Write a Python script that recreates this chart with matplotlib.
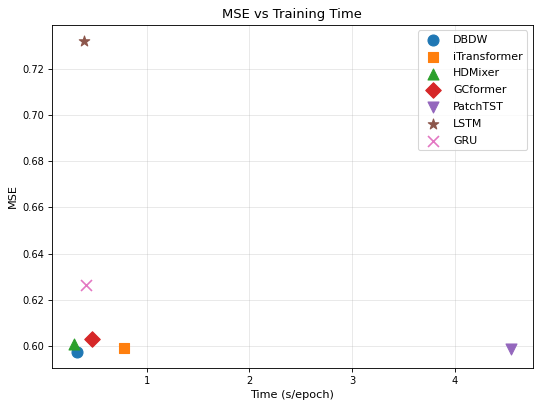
import matplotlib
matplotlib.use('Agg')
import matplotlib.pyplot as plt

models = ['DBDW', 'iTransformer', 'HDMixer', 'GCformer', 'PatchTST', 'LSTM', 'GRU']
train_time = [0.32, 0.777, 0.29, 0.466, 4.55, 0.388, 0.408]
mse = [0.5974, 0.5991, 0.6009, 0.6030, 0.5987, 0.7321, 0.6263]
markers = ['o', 's', '^', 'D', 'v', '*', 'x']
colors = ['#1f77b4', '#ff7f0e', '#2ca02c', '#d62728', '#9467bd', '#8c564b', '#e377c2']

DPI = 79
fig, ax = plt.subplots(figsize=(535 / DPI, 403 / DPI), dpi=DPI)

for name, t, m, mk, c in zip(models, train_time, mse, markers, colors):
    ax.scatter(t, m, marker=mk, color=c, s=100, label=name, zorder=3)

ax.set_title('MSE vs Training Time', fontsize=12)
ax.set_xlabel('Time (s/epoch)', fontsize=10.3)
ax.set_ylabel('MSE', fontsize=10.3)
ax.tick_params(labelsize=9)
ax.grid(True, alpha=0.3)
ax.legend(fontsize=10, loc='upper right', labelspacing=0.62)

fig.subplots_adjust(left=0.097, right=0.996, top=0.938, bottom=0.087)
plt.savefig('out.png', dpi=DPI)
